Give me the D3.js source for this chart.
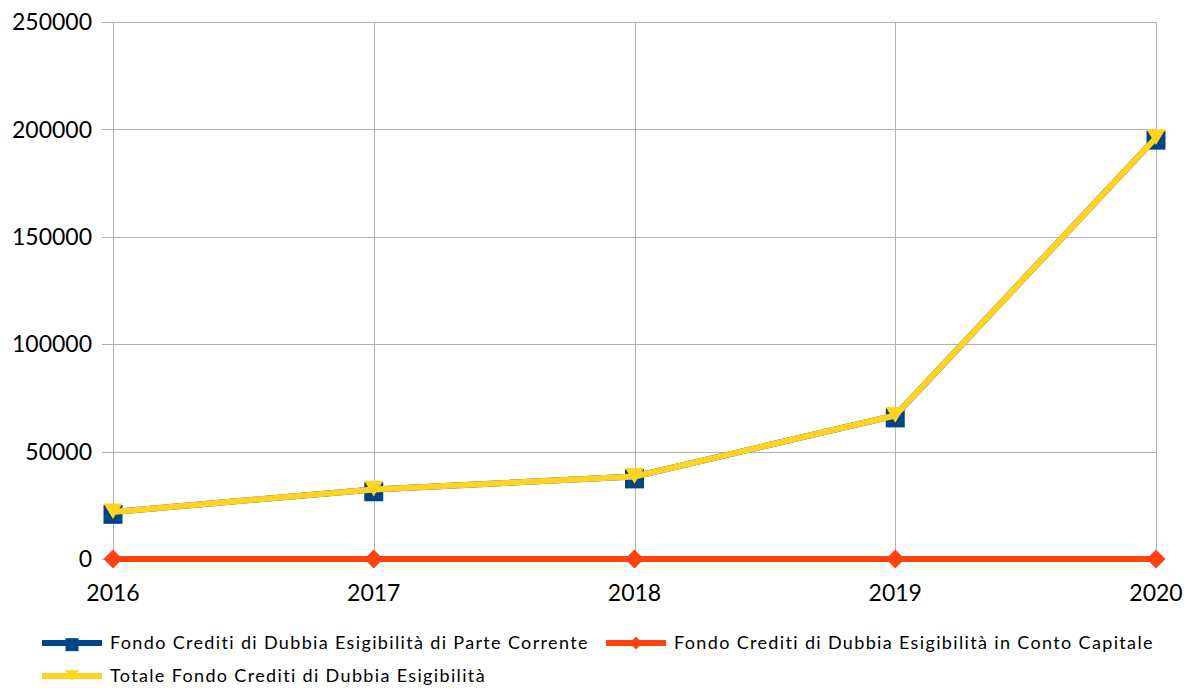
<!DOCTYPE html>
<html>
<head>
<meta charset="utf-8">
<script src="https://cdn.jsdelivr.net/npm/d3@7"></script>
<style>
  body { margin: 0; background: #fff; }
  svg { display: block; font-family: Lato, "Open Sans", sans-serif; }
</style>
</head>
<body>
<svg id="chart" width="1184" height="688"></svg>
<script>
// data
var years = ["2016", "2017", "2018", "2019", "2020"];
var parteCorrente = [21900, 32400, 38400, 66800, 196100];
var contoCapitale = [0, 0, 0, 0, 0];
var totale = [21900, 32400, 38400, 66800, 196100];
var yTicks = [0, 50000, 100000, 150000, 200000, 250000];
var seriesNames = [
    "Fondo Crediti di Dubbia Esigibilità di Parte Corrente",
    "Fondo Crediti di Dubbia Esigibilità in Conto Capitale",
    "Totale Fondo Crediti di Dubbia Esigibilità"
];

var svg = d3.select("#chart");
var plotLeft = 113, plotRight = 1156, plotTop = 22, plotBottom = 559;

var x = d3.scalePoint().domain(years).range([plotLeft, plotRight]);
var y = d3.scaleLinear().domain([0, 250000]).range([plotBottom, plotTop]);

var grid = "#b3b3b3";

// horizontal grid + ticks
svg.append("g").selectAll("line").data(yTicks).enter().append("line")
    .attr("x1", plotLeft - 11).attr("x2", plotRight)
    .attr("y1", function(d) { return Math.round(y(d)) + 0.5; })
    .attr("y2", function(d) { return Math.round(y(d)) + 0.5; })
    .attr("stroke", grid).attr("stroke-width", 1);

// vertical grid + ticks
svg.append("g").selectAll("line").data(years).enter().append("line")
    .attr("x1", function(d) { return Math.round(x(d)) + 0.5; })
    .attr("x2", function(d) { return Math.round(x(d)) + 0.5; })
    .attr("y1", plotTop).attr("y2", plotBottom + 9)
    .attr("stroke", grid).attr("stroke-width", 1);

// y labels
svg.append("g").selectAll("text").data(yTicks).enter().append("text")
    .attr("x", 92)
    .attr("y", function(d) { return y(d); })
    .attr("dy", "0.36em")
    .attr("text-anchor", "end")
    .attr("font-size", 23)
    .attr("fill", "#000")
    .text(function(d) { return d; });

// x labels
svg.append("g").selectAll("text").data(years).enter().append("text")
    .attr("x", function(d) { return x(d); })
    .attr("y", 593)
    .attr("dy", "0.36em")
    .attr("text-anchor", "middle")
    .attr("font-size", 23)
    .attr("fill", "#000")
    .text(function(d) { return d; });

var line = d3.line()
    .x(function(d, i) { return x(years[i]); })
    .y(function(d) { return y(d); });

var series = [
    { name: seriesNames[0], values: parteCorrente, color: "#004586", symbol: "square" },
    { name: seriesNames[1], values: contoCapitale, color: "#ff420e", symbol: "diamond" },
    { name: seriesNames[2], values: totale, color: "#ffd320", symbol: "triangle" }
];

// marker shapes, s = half size
function markerPath(sym, s) {
    if (sym === "diamond") return "M0," + (-s) + "L" + s + ",0L0," + s + "L" + (-s) + ",0Z";
    if (sym === "triangle") return "M" + (-s) + "," + (-s * 0.9) + "L" + s + "," + (-s * 0.9) + "L0," + (s * 0.75) + "Z";
    return "M" + (-s) + "," + (-s * 0.75) + "H" + s + "V" + (s * 1.25) + "H" + (-s) + "Z";
}

series.forEach(function(s) {
    var g = svg.append("g");
    g.append("path")
        .attr("d", line(s.values))
        .attr("fill", "none")
        .attr("stroke", s.color)
        .attr("stroke-width", 6)
        .attr("stroke-linejoin", "round");
    g.selectAll("path.m").data(s.values).enter().append("path")
        .attr("class", "m")
        .attr("transform", function(d, i) { return "translate(" + x(years[i]) + "," + y(d) + ")"; })
        .attr("d", markerPath(s.symbol, 9.5))
        .attr("fill", s.color);
});

// legend
var legendPos = [[42, 643], [606, 643], [42, 676]];
series.forEach(function(s, i) {
    var lx = legendPos[i][0], ly = legendPos[i][1];
    var g = svg.append("g").attr("transform", "translate(" + lx + "," + ly + ")");
    g.append("line").attr("x1", 0).attr("x2", 60).attr("y1", 0).attr("y2", 0)
        .attr("stroke", s.color).attr("stroke-width", 6);
    g.append("path").attr("transform", "translate(30,0)")
        .attr("d", markerPath(s.symbol, 6.5)).attr("fill", s.color);
    g.append("text").attr("x", 68).attr("y", 0).attr("dy", "0.36em")
        .attr("font-size", 18).attr("letter-spacing", 1.35).attr("fill", "#000")
        .text(s.name);
});
</script>
</body>
</html>
